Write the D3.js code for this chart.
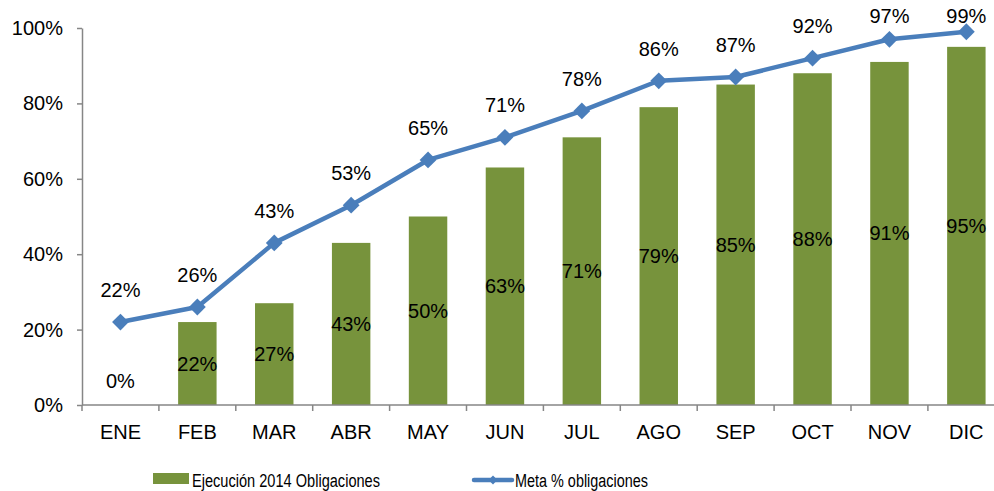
<!DOCTYPE html>
<html>
<head>
<meta charset="utf-8">
<script src="https://cdn.jsdelivr.net/npm/d3@7"></script>
<style>
  body { margin: 0; background: #fff; }
  text { font-family: "Liberation Sans", Arial, sans-serif; fill: #000; }
</style>
</head>
<body>
<div id="chart"></div>
<script>
var months = ["ENE", "FEB", "MAR", "ABR", "MAY", "JUN", "JUL", "AGO", "SEP", "OCT", "NOV", "DIC"];
var ejecucion = [0, 22, 27, 43, 50, 63, 71, 79, 85, 88, 91, 95];
var meta = [22, 26, 43, 53, 65, 71, 78, 86, 87, 92, 97, 99];
var yTicks = [0, 20, 40, 60, 80, 100];
var seriesNames = ["Ejecución 2014 Obligaciones", "Meta % obligaciones"];

var w = 994, h = 491;
var plotLeft = 82, plotTop = 28, plotBottom = 405;
var band = 76.9;
var barColor = "#77933C", lineColor = "#4A7EBB", axisColor = "#868686";

var svg = d3.select("#chart").append("svg")
  .attr("width", w)
  .attr("height", h);

var xScale = d3.scaleBand()
  .domain(months)
  .range([plotLeft, plotLeft + band * months.length])
  .paddingInner(0.5)
  .paddingOuter(0.25);

var yScale = d3.scaleLinear()
  .domain([0, 100])
  .range([plotBottom, plotTop]);

function cx(m) { return xScale(m) + xScale.bandwidth() / 2; }

// bars
svg.selectAll("rect.bar")
  .data(ejecucion)
  .enter()
  .append("rect")
  .attr("class", "bar")
  .attr("x", function(d, i) { return xScale(months[i]); })
  .attr("y", function(d) { return yScale(d); })
  .attr("width", xScale.bandwidth())
  .attr("height", function(d) { return plotBottom - yScale(d); })
  .attr("fill", barColor);

// y axis
var yAxis = d3.axisLeft(yScale)
  .tickValues(yTicks)
  .tickSize(5)
  .tickPadding(14)
  .tickSizeOuter(0)
  .tickFormat(function(d) { return d + "%"; });

var gy = svg.append("g")
  .attr("transform", "translate(" + plotLeft + ",0)")
  .call(yAxis);
gy.select(".domain").attr("stroke", axisColor).attr("stroke-width", 1.5);
gy.selectAll(".tick line").attr("stroke", axisColor).attr("stroke-width", 1.5);
gy.selectAll(".tick text").attr("font-size", 20).attr("font-family", "Liberation Sans, Arial, sans-serif").attr("fill", "#000");

// x axis (ticks between categories)
svg.append("line")
  .attr("x1", plotLeft).attr("x2", w)
  .attr("y1", plotBottom).attr("y2", plotBottom)
  .attr("stroke", axisColor).attr("stroke-width", 1.5);

svg.selectAll("line.xtick")
  .data(d3.range(months.length + 1))
  .enter()
  .append("line")
  .attr("class", "xtick")
  .attr("x1", function(i) { return plotLeft + i * band; })
  .attr("x2", function(i) { return plotLeft + i * band; })
  .attr("y1", plotBottom)
  .attr("y2", plotBottom + 6)
  .attr("stroke", axisColor).attr("stroke-width", 1.5);

svg.selectAll("text.xlabel")
  .data(months)
  .enter()
  .append("text")
  .attr("class", "xlabel")
  .attr("x", function(d) { return cx(d); })
  .attr("y", plotBottom + 34)
  .attr("text-anchor", "middle")
  .attr("font-size", 20)
  .text(function(d) { return d; });

// line
var line = d3.line()
  .x(function(d, i) { return cx(months[i]); })
  .y(function(d) { return yScale(d); });

svg.append("path")
  .datum(meta)
  .attr("d", line)
  .attr("fill", "none")
  .attr("stroke", lineColor)
  .attr("stroke-width", 4.5)
  .attr("stroke-linejoin", "round");

var diamond = d3.symbol().type(d3.symbolDiamond2).size(180);

svg.selectAll("path.marker")
  .data(meta)
  .enter()
  .append("path")
  .attr("class", "marker")
  .attr("d", diamond)
  .attr("transform", function(d, i) { return "translate(" + cx(months[i]) + "," + yScale(d) + ")"; })
  .attr("fill", lineColor);

// line labels (kept inside the top of the chart)
svg.selectAll("text.metaLabel")
  .data(meta)
  .enter()
  .append("text")
  .attr("class", "metaLabel")
  .attr("x", function(d, i) { return cx(months[i]); })
  .attr("y", function(d) { return Math.max(yScale(d) - 25, 23); })
  .attr("text-anchor", "middle")
  .attr("font-size", 20)
  .text(function(d) { return d + "%"; });

// bar labels (centered in bar)
svg.selectAll("text.barLabel")
  .data(ejecucion)
  .enter()
  .append("text")
  .attr("class", "barLabel")
  .attr("x", function(d, i) { return cx(months[i]); })
  .attr("y", function(d) { return Math.min((yScale(d) + plotBottom) / 2, plotBottom - 24) + 7; })
  .attr("text-anchor", "middle")
  .attr("font-size", 20)
  .text(function(d) { return d + "%"; });

// legend
var legend = svg.append("g");
legend.append("rect")
  .attr("x", 153).attr("y", 473)
  .attr("width", 36).attr("height", 11)
  .attr("fill", barColor);
legend.append("text")
  .attr("x", 192).attr("y", 487)
  .attr("font-size", 18)
  .attr("textLength", 188)
  .attr("lengthAdjust", "spacingAndGlyphs")
  .text(seriesNames[0]);

legend.append("line")
  .attr("x1", 474).attr("x2", 512)
  .attr("y1", 480).attr("y2", 480)
  .attr("stroke", lineColor)
  .attr("stroke-width", 4.5)
  .attr("stroke-linecap", "round");
legend.append("path")
  .attr("d", d3.symbol().type(d3.symbolDiamond2).size(50))
  .attr("transform", "translate(493,480)")
  .attr("fill", lineColor);
legend.append("text")
  .attr("x", 515).attr("y", 487)
  .attr("font-size", 18)
  .attr("textLength", 133)
  .attr("lengthAdjust", "spacingAndGlyphs")
  .text(seriesNames[1]);
</script>
</body>
</html>
